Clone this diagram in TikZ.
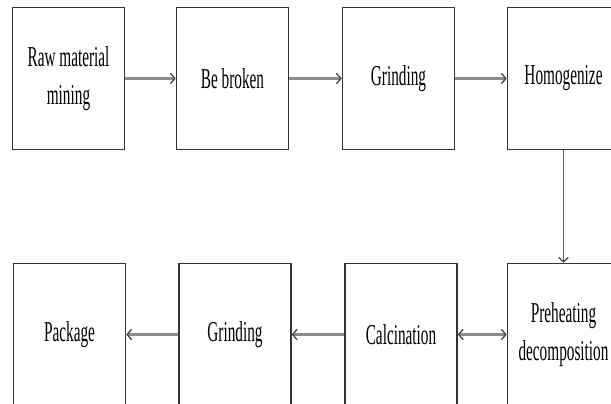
\documentclass[tikz,border=0pt]{standalone}
\usepackage{fontspec}
\newfontfamily\boxfont[FakeStretch=0.53]{Liberation Serif}
\usetikzlibrary{arrows.meta,positioning}

\tikzset{
  stadio/.style={draw=black!80, line width=1.2pt, fill=white, align=center,
    minimum width=2.8cm, minimum height=3.55cm, inner sep=0pt,
    font=\boxfont\fontsize{20.5}{27}\selectfont},
  freccia/.style={draw=black!45, line width=2.8pt,
    -{Straight Barb[length=1.1mm,width=2.6mm,line width=0.9pt,color=black!75]}},
  freccia2/.style={freccia,
    {Straight Barb[length=1.1mm,width=2.6mm,line width=0.9pt,color=black!75]}-{Straight Barb[length=1.1mm,width=2.6mm,line width=0.9pt,color=black!75]}},
  discesa/.style={draw=black!60, line width=1.3pt,
    -{Straight Barb[length=1.1mm,width=2.4mm,line width=0.9pt,color=black!75]}}
}

\begin{document}
\begin{tikzpicture}
            \useasboundingbox (0,0) rectangle (15.275,10.075);

            % Prima riga
            \node[stadio] (mining) at (1.7125,8.1125) {Raw material\\mining};
            \node[stadio] (broken) at (5.8125,8.1125) {Be broken};
            \node[stadio] (grind1) at (9.9625,8.1125) {Grinding};
            \node[stadio] (homog) at (14.0875,8.1125) {Homogenize};

            % Seconda riga
            \node[stadio] (preheat) at (14.0875,1.7125) {Preheating\\decomposition};
            \node[stadio] (calc) at (10.025,1.7125) {Calcination};
            \node[stadio] (grind2) at (5.875,1.7125) {Grinding};
            \node[stadio] (pack) at (1.7375,1.7125) {Package};

            % Frecce
            \draw[freccia] (mining) -- (broken);
            \draw[freccia] (broken) -- (grind1);
            \draw[freccia] (grind1) -- (homog);
            \draw[discesa] (homog) -- (preheat);
            \draw[freccia2] (calc) -- (preheat);
            \draw[freccia] (calc) -- (grind2);
            \draw[freccia] (grind2) -- (pack);
        \end{tikzpicture}
\end{document}
